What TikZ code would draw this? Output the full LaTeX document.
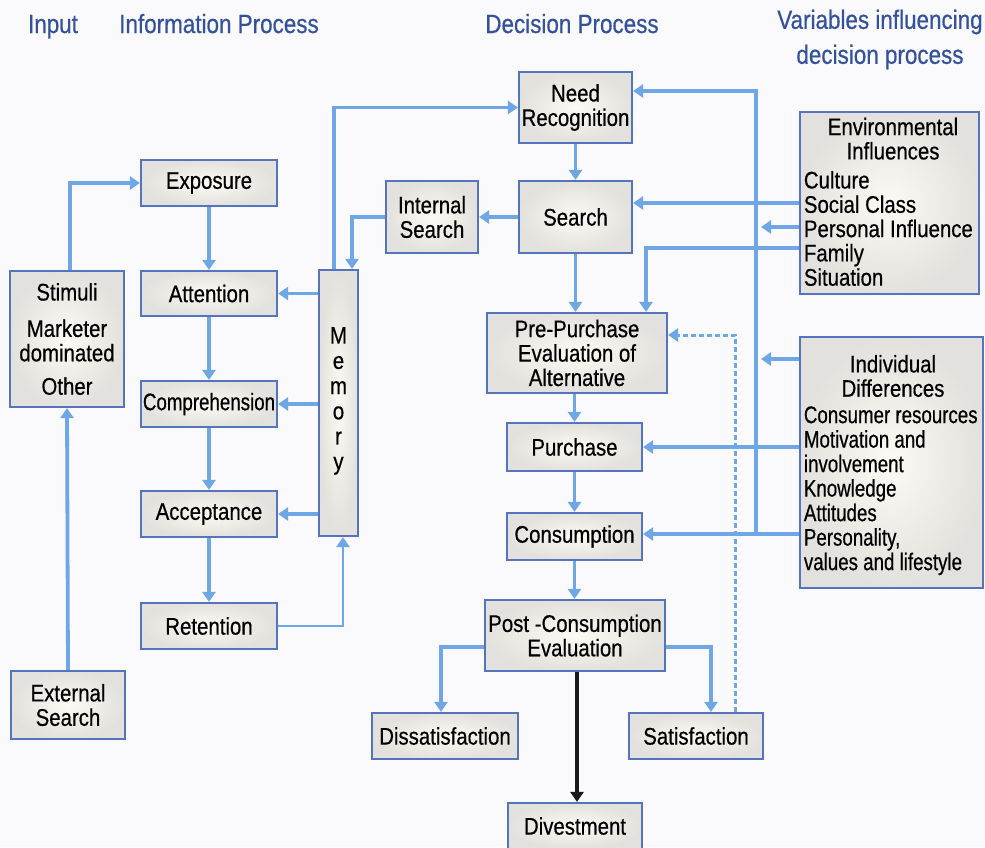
\documentclass[tikz,border=0pt]{standalone}
\usepackage{fontspec}
\setmainfont{Liberation Sans}[FakeStretch=0.85,FakeBold=0.5]
\newfontfamily\narrowfont{Liberation Sans}[FakeStretch=0.78,FakeBold=0.5]
\usetikzlibrary{arrows.meta}

\definecolor{bg}{HTML}{FAFAFC}
\definecolor{headblue}{HTML}{34519B}
\definecolor{boxline}{HTML}{5474BE}
\definecolor{flow}{HTML}{6EA6E6}
\definecolor{boxin}{HTML}{FBFAF3}
\definecolor{boxout}{HTML}{E3E1DD}

\tikzset{
  box/.style={draw=boxline, line width=1.1pt, inner color=boxin, outer color=boxout,
    align=center, inner sep=0pt, font=\fontsize{12}{12.2}\selectfont},
  head/.style={text=headblue, font=\fontsize{13.2}{17.5}\selectfont, inner sep=0pt},
  boxtext/.style={inner sep=0pt, font=\fontsize{12}{12.15}\selectfont},
  flowline/.style={draw=flow, line width=1.9pt, -{Triangle[length=5pt,width=6.5pt]}},
  thinflow/.style={flowline, line width=1.3pt},
  dotflow/.style={flowline, line width=1.5pt, dash pattern=on 2.5pt off 1.5pt},
  divflow/.style={draw=black!90, line width=1.9pt, -{Triangle[length=5pt,width=6.5pt]}},
}

\begin{document}
\begin{tikzpicture}[x=0.5pt,y=-0.5pt]
\fill[bg] (0,0) rectangle (985,847);
\useasboundingbox (0,0) rectangle (985,847);

% column headings
\node[head, anchor=base] (hin) at (53,33) {Input};
\node[head, anchor=base] (hinfo) at (219,33) {Information Process};
\node[head, anchor=base] (hdec) at (572,33) {Decision Process};
\node[head, align=center] (hvar) at (880,39.5) {Variables influencing\\decision process};

% input
\node[box, minimum width=57pt, minimum height=68pt] (stim) at (67,339)
  {Stimuli\\[6pt]Marketer\\dominated\\[4.5pt]Other};
\node[box, minimum width=57pt, minimum height=34pt] (ext) at (68,705) {External\\Search};

% information processing
\node[box, minimum width=68pt, minimum height=23pt] (expo) at (209,183) {Exposure};
\node[box, minimum width=68pt, minimum height=22.5pt] (att) at (209,293.5) {Attention};
\node[box, minimum width=68pt, minimum height=23pt] (comp) at (209,404) {\narrowfont Comprehension};
\node[box, minimum width=68pt, minimum height=23pt] (acc) at (209,514) {Acceptance};
\node[box, minimum width=68pt, minimum height=23pt] (ret) at (209,626) {Retention};
\node[box, minimum width=19.5pt, minimum height=133pt, font=\fontsize{12}{12.6}\selectfont]
  (mem) at (338.5,403) {M\\e\\m\\o\\r\\y\\[-8pt]};

% decision process
\node[box, minimum width=46pt, minimum height=36pt] (intsearch) at (432,217) {Internal\\Search};
\node[box, minimum width=56.5pt, minimum height=35.5pt] (need) at (575.5,107.5) {Need\\Recognition};
\node[box, minimum width=56.5pt, minimum height=36pt] (search) at (575.5,217) {Search};
\node[box, minimum width=90pt, minimum height=40pt] (pre) at (577,353)
  {Pre-Purchase\\Evaluation of\\Alternative};
\node[box, minimum width=67.5pt, minimum height=24pt] (purch) at (574.5,447) {Purchase};
\node[box, minimum width=67.5pt, minimum height=23.5pt] (cons) at (574.5,536.5) {Consumption};
\node[box, minimum width=90pt, minimum height=35.5pt] (post) at (575,635.5)
  {Post -Consumption\\Evaluation};
\node[box, minimum width=73pt, minimum height=23pt] (dis) at (445,736) {Dissatisfaction};
\node[box, minimum width=67pt, minimum height=23pt] (sat) at (696,736) {Satisfaction};
\node[box, minimum width=67pt, minimum height=23pt] (div) at (575,826) {Divestment};

% influencing variables
\node[box, minimum width=89.5pt, minimum height=91pt] (env) at (889.5,203) {};
\node[boxtext, align=center] (envhead) at (893,138.7) {Environmental\\Influences};
\node[boxtext, align=left, anchor=west] (envlist) at (803.5,228.5)
  {Culture\\Social Class\\Personal Influence\\Family\\Situation};
\node[box, minimum width=91.5pt, minimum height=125.5pt] (ind) at (891.5,462.5) {};
\node[boxtext, align=center] (indhead) at (893,376) {Individual\\Differences};
\node[boxtext, align=left, anchor=west, font=\narrowfont\fontsize{12}{12.25}\selectfont]
  (indlist) at (803.5,490.7)
  {Consumer resources\\Motivation and\\involvement\\Knowledge\\Attitudes\\Personality,\\values and lifestyle};

% input flows
\draw[flowline] ([xshift=1.5pt]stim.north) |- (expo.west);
\draw[flowline] (ext.north) -- (stim.south);

% information processing chain
\draw[flowline] (expo) -- (att);
\draw[flowline] (att) -- (comp);
\draw[flowline] (comp) -- (acc);
\draw[flowline] (acc) -- (ret);
\draw[flowline] (mem.west |- att) -- (att.east);
\draw[flowline] (mem.west |- comp) -- (comp.east);
\draw[flowline] (mem.west |- acc) -- (acc.east);
\draw[thinflow] (ret.east) -| ([xshift=2.25pt]mem.south);
\draw[flowline] ([xshift=-2.25pt]mem.north) |- (need.west);
\draw[flowline, line width=1.6pt] (intsearch.west) -| ([xshift=6.75pt]mem.north);

% decision chain
\draw[flowline] (search.west) -- (intsearch.east);
\draw[flowline] (need) -- (search);
\draw[flowline] (search.south) -- (search.south |- pre.north);
\draw[flowline] (purch.north |- pre.south) -- (purch.north);
\draw[flowline] (purch) -- (cons);
\draw[flowline] (cons.south) -- (cons.south |- post.north);
\draw[flowline] ([yshift=-5.75pt]post.west) -| ([xshift=-2pt]dis.north);
\draw[flowline] ([yshift=-5.75pt]post.east) -| ([xshift=7.5pt]sat.north);
\draw[divflow] ([xshift=1pt]post.south) -- ([xshift=1pt]post.south |- div.north);
\draw[dotflow] ([xshift=19.5pt]sat.north) |- ([yshift=9pt]pre.east);

% influence bus and feeds
\coordinate (busbot) at (756,534);
\draw[flowline] (busbot) |- ([yshift=8.25pt]need.east);
\draw[flowline] (env.west) -- (env.west -| search.east);
\draw[flowline, shorten >=2.5pt] ([yshift=-12pt]env.west) -- ([yshift=-12pt]env.west -| busbot);
\draw[flowline] ([yshift=-22.5pt]env.west) -| ([xshift=34.5pt]pre.north);
\draw[flowline, shorten >=2.5pt] ([yshift=51.75pt]ind.west) -- ([yshift=51.75pt]ind.west -| busbot);
\draw[flowline] (ind.west |- purch) -- (purch.east);
\draw[flowline] (ind.west |- busbot) -- (cons.east |- busbot);
\end{tikzpicture}
\end{document}
